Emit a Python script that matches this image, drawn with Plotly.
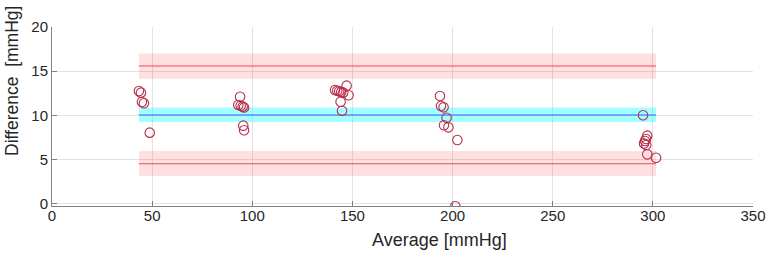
import plotly.graph_objects as go

# Measured points (Average, Difference) in mmHg
avg = [43.4, 44.4, 44.9, 45.9, 48.8,
       93.9, 93.0, 94.2, 95.2, 95.9, 95.5, 95.9,
       141.3, 142.4, 143.4, 144.4, 145.4, 147.1, 148.1, 144.1, 144.8,
       193.7, 194.2, 195.5, 197.0, 195.7, 197.9, 202.4, 201.4,
       295.1, 297.2, 296.6, 296.1, 295.6, 296.7, 297.2, 301.6]
diff = [12.77, 12.58, 11.53, 11.38, 8.06,
        12.12, 11.19, 11.10, 11.00, 10.90, 8.85, 8.33,
        12.88, 12.80, 12.73, 12.66, 12.58, 13.37, 12.28, 11.56, 10.54,
        12.20, 11.07, 10.92, 9.75, 8.89, 8.66, 7.23, -0.26,
        10.02, 7.72, 7.34, 7.12, 6.82, 6.67, 5.61, 5.23]

# Bias and limits of agreement with their confidence bands
x_span = [43.4, 301.6]
bias = 10.05
bias_ci = [9.27, 10.9]
upper_loa = 15.6
upper_ci = [14.15, 17.0]
lower_loa = 4.55
lower_ci = [3.15, 6.0]

x_ticks = [0, 50, 100, 150, 200, 250, 300, 350]
y_ticks = [0, 5, 10, 15, 20]

fig = go.Figure()

def band(lo_hi, color):
    fig.add_trace(go.Scatter(
        x=[x_span[0], x_span[1], x_span[1], x_span[0], x_span[0]],
        y=[lo_hi[0], lo_hi[0], lo_hi[1], lo_hi[1], lo_hi[0]],
        fill="toself", fillcolor=color, mode="none",
        hoverinfo="skip", showlegend=False))

def hline(yv, color):
    fig.add_trace(go.Scatter(
        x=x_span, y=[yv, yv], mode="lines",
        line=dict(color=color, width=1.1),
        hoverinfo="skip", showlegend=False))

band(upper_ci, "rgba(255,0,0,0.12)")
band(lower_ci, "rgba(255,0,0,0.12)")
band(bias_ci, "rgba(0,255,255,0.35)")
hline(upper_loa, "rgba(240,60,60,0.9)")
hline(lower_loa, "rgba(240,60,60,0.9)")
hline(bias, "rgb(60,90,255)")

fig.add_trace(go.Scatter(
    x=avg, y=diff, mode="markers",
    marker=dict(symbol="circle-open", size=9.5,
                color="rgb(185,45,75)", line=dict(width=1.1)),
    showlegend=False))

font_family = "Liberation Sans, Arial, sans-serif"
fig.update_layout(
    width=771, height=263,
    margin=dict(l=52, r=18, t=27, b=57),
    paper_bgcolor="white", plot_bgcolor="white",
    font=dict(family=font_family, size=15, color="#262626"),
    showlegend=False,
    xaxis=dict(range=[0, 350], tickvals=x_ticks, showgrid=True,
               gridcolor="#e3e3e3", gridwidth=1, zeroline=False,
               showline=True, linecolor="#808080", linewidth=1,
               ticks="inside", ticklen=5, tickcolor="#808080",
               automargin=False, ticklabelstandoff=-4,
               tickfont=dict(size=15, color="#262626")),
    yaxis=dict(range=[-0.23, 20], tickvals=y_ticks, showgrid=True,
               gridcolor="#e3e3e3", gridwidth=1, zeroline=False,
               showline=True, linecolor="#808080", linewidth=1,
               ticks="inside", ticklen=5, tickcolor="#808080",
               automargin=False,
               tickfont=dict(size=15, color="#262626")),
    annotations=[
        dict(text="Average [mmHg]", xref="paper", yref="paper",
             x=(439 - 52) / 701, y=-(240 - 206) / 179,
             showarrow=False, font=dict(size=18, color="#262626"),
             xanchor="center", yanchor="middle"),
        dict(text="Difference  [mmHg]", xref="paper", yref="paper",
             x=-(52 - 12) / 701, y=(206 - 81) / 179, textangle=-90,
             showarrow=False, font=dict(size=17.5, color="#262626"),
             xanchor="center", yanchor="middle"),
    ],
)

fig.write_html("out.html", config={"displayModeBar": False},
               post_script="document.body.style.margin='0';document.body.style.padding='0';")
